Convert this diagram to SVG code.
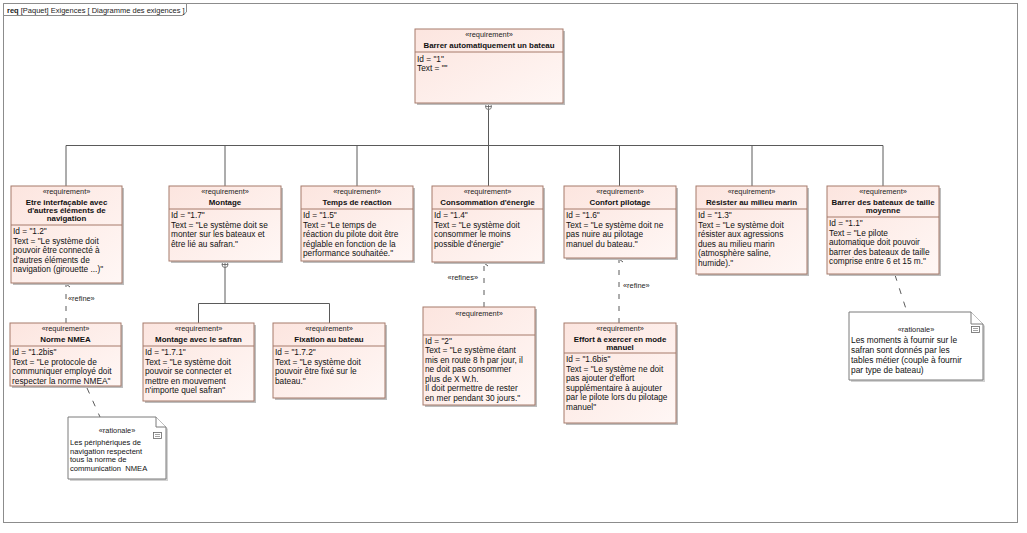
<svg xmlns="http://www.w3.org/2000/svg" width="1027" height="533" viewBox="0 0 1027 533">
<style>
.bg{fill:#fff}
.frame{fill:none;stroke:#8c8c8c;stroke-width:1}
.tab{fill:#fff;stroke:#8c8c8c;stroke-width:1}
.tabt{font-family:"Liberation Sans",Arial,sans-serif;font-size:7.5px;fill:#222}
.box{fill:url(#rg);stroke:#a67a6b;stroke-width:1}
.sh{fill:#bdbdbd}
.div{stroke:#a67a6b;stroke-width:1}
.st{font-family:"Liberation Sans",Arial,sans-serif;font-size:7.4px;text-anchor:middle;fill:#222}
.nm{font-family:"Liberation Sans",Arial,sans-serif;font-size:7.9px;font-weight:bold;text-anchor:middle;fill:#111}
.bd{font-family:"Liberation Sans",Arial,sans-serif;font-size:8.3px;fill:#111}
.lbl{font-family:"Liberation Sans",Arial,sans-serif;font-size:7.4px;fill:#222}
.conn{stroke:#5a5a5a;stroke-width:1;fill:none}
.dash{stroke:#5a5a5a;stroke-width:1;fill:none;stroke-dasharray:5 7}
.adash{stroke:#5a5a5a;stroke-width:1;fill:none;stroke-dasharray:6 8}
.note{fill:#fff;stroke:#7a7a7a;stroke-width:1}
.nsh{fill:#d2d2d2}
.n1{font-family:"Liberation Sans",Arial,sans-serif;font-size:7.6px;fill:#111}
.n2{font-family:"Liberation Sans",Arial,sans-serif;font-size:8.4px;fill:#111}
.hub{fill:#fff;stroke:#5a5a5a;stroke-width:0.8}
.ico{fill:#fff;stroke:#666;stroke-width:0.8}
</style>
<defs>
<linearGradient id="rg" x1="0" y1="0" x2="1" y2="1">
<stop offset="0" stop-color="#fce5df"/>
<stop offset="1" stop-color="#fff7f5"/>
</linearGradient>
<marker id="oa" markerWidth="8" markerHeight="8" refX="4" refY="1" orient="auto-start-reverse" markerUnits="userSpaceOnUse" viewBox="0 0 8 8">
<path d="M1,5 L4,1 L7,5 M4,1 L4,7" fill="none" stroke="#5a5a5a" stroke-width="1" stroke-dasharray="none"/>
</marker>
</defs>
<rect class="bg" x="0" y="0" width="1027" height="533"/>
<g id="frame">
<rect class="frame" x="3.5" y="3.5" width="1014" height="519"/>
<path class="tab" d="M3.5,3.5 H186.5 V12 L182.5,15.5 H3.5 Z"/>
<text class="tabt" x="7" y="12.5"><tspan font-weight="bold">req</tspan> [Paquet] Exigences [ Diagramme des exigences ]</text>
</g>

<g id="connectors">
<line class="conn" x1="488.5" y1="109.5" x2="488.5" y2="145.5"/>
<line class="conn" x1="66" y1="145.5" x2="883" y2="145.5"/>
<line class="conn" x1="66" y1="145.5" x2="66" y2="186"/>
<line class="conn" x1="225" y1="145.5" x2="225" y2="186"/>
<line class="conn" x1="357" y1="145.5" x2="357" y2="186"/>
<line class="conn" x1="488.5" y1="145.5" x2="488.5" y2="186"/>
<line class="conn" x1="619.5" y1="145.5" x2="619.5" y2="186"/>
<line class="conn" x1="752" y1="145.5" x2="752" y2="186"/>
<line class="conn" x1="883" y1="145.5" x2="883" y2="186"/>
<circle class="hub" cx="488.5" cy="106.5" r="3"/>
<path d="M485.5,106.5 H491.5 M488.5,103.5 V109.5" stroke="#5a5a5a" stroke-width="0.8"/>
<line class="conn" x1="225" y1="267.5" x2="225" y2="303.5"/>
<line class="conn" x1="198.5" y1="303.5" x2="329.5" y2="303.5"/>
<line class="conn" x1="198.5" y1="303.5" x2="198.5" y2="323"/>
<line class="conn" x1="329.5" y1="303.5" x2="329.5" y2="323"/>
<circle class="hub" cx="225" cy="264.5" r="3"/>
<path d="M222,264.5 H228 M225,261.5 V267.5" stroke="#5a5a5a" stroke-width="0.8"/>
<line class="dash" x1="66" y1="323" x2="66" y2="284" marker-end="url(#oa)"/>
<text class="lbl" x="68" y="301">«refine»</text>
<line class="dash" x1="484" y1="307" x2="484" y2="263" marker-end="url(#oa)"/>
<text class="lbl" x="478" y="280" text-anchor="end">«refines»</text>
<line class="dash" x1="619" y1="323" x2="619" y2="259" marker-end="url(#oa)"/>
<text class="lbl" x="623" y="288">«refine»</text>
<line class="adash" x1="87" y1="388" x2="100" y2="417"/>
<line class="adash" x1="895" y1="275" x2="907" y2="312"/>
</g>

<g id="n0">
<rect class="sh" x="417" y="31" width="148" height="74"/>
<rect class="box" x="415" y="29" width="148" height="74"/>
<line class="div" x1="415" y1="52" x2="563" y2="52"/>
<text class="st" x="489" y="37">«requirement»</text>
<text class="nm" x="489" y="48">Barrer automatiquement un bateau</text>
<text class="bd" x="417" y="61.5">Id = "1"</text>
<text class="bd" x="417" y="71">Text = ""</text>
</g>

<g id="n1">
<rect class="sh" x="13" y="188" width="111" height="97"/>
<rect class="box" x="11" y="186" width="111" height="97"/>
<line class="div" x1="11" y1="225" x2="122" y2="225"/>
<text class="st" x="66.5" y="194">«requirement»</text>
<text class="nm" x="66.5" y="205">Etre interfaçable avec</text>
<text class="nm" x="66.5" y="213">d'autres éléments de</text>
<text class="nm" x="66.5" y="221">navigation</text>
<text class="bd" x="13" y="234">Id = "1.2"</text>
<text class="bd" x="13" y="243.5">Text = "Le système doit</text>
<text class="bd" x="13" y="253">pouvoir être connecté à</text>
<text class="bd" x="13" y="262.5">d'autres éléments de</text>
<text class="bd" x="13" y="272">navigation (girouette ...)"</text>
</g>

<g id="n2">
<rect class="sh" x="171" y="188" width="112" height="75"/>
<rect class="box" x="169" y="186" width="112" height="75"/>
<line class="div" x1="169" y1="209" x2="281" y2="209"/>
<text class="st" x="225" y="194">«requirement»</text>
<text class="nm" x="225" y="205">Montage</text>
<text class="bd" x="171" y="218">Id = "1.7"</text>
<text class="bd" x="171" y="227.5">Text = "Le système doit se</text>
<text class="bd" x="171" y="237">monter sur les bateaux et</text>
<text class="bd" x="171" y="246.5">être lié au safran."</text>
</g>

<g id="n3">
<rect class="sh" x="303" y="188" width="112" height="75"/>
<rect class="box" x="301" y="186" width="112" height="75"/>
<line class="div" x1="301" y1="209" x2="413" y2="209"/>
<text class="st" x="357" y="194">«requirement»</text>
<text class="nm" x="357" y="205">Temps de réaction</text>
<text class="bd" x="303" y="218">Id = "1.5"</text>
<text class="bd" x="303" y="227.5">Text = "Le temps de</text>
<text class="bd" x="303" y="237">réaction du pilote doit être</text>
<text class="bd" x="303" y="246.5">réglable en fonction de la</text>
<text class="bd" x="303" y="256">performance souhaitée."</text>
</g>

<g id="n4">
<rect class="sh" x="434" y="188" width="111" height="76"/>
<rect class="box" x="432" y="186" width="111" height="76"/>
<line class="div" x1="432" y1="209" x2="543" y2="209"/>
<text class="st" x="487.5" y="194">«requirement»</text>
<text class="nm" x="487.5" y="205">Consommation d'énergie</text>
<text class="bd" x="434" y="218">Id = "1.4"</text>
<text class="bd" x="434" y="227.5">Text = "Le système doit</text>
<text class="bd" x="434" y="237">consommer le moins</text>
<text class="bd" x="434" y="246.5">possible d'énergie"</text>
</g>

<g id="n5">
<rect class="sh" x="566" y="188" width="112" height="72"/>
<rect class="box" x="564" y="186" width="112" height="72"/>
<line class="div" x1="564" y1="209" x2="676" y2="209"/>
<text class="st" x="620" y="194">«requirement»</text>
<text class="nm" x="620" y="205">Confort pilotage</text>
<text class="bd" x="566" y="218">Id = "1.6"</text>
<text class="bd" x="566" y="227.5">Text = "Le système doit ne</text>
<text class="bd" x="566" y="237">pas nuire au pilotage</text>
<text class="bd" x="566" y="246.5">manuel du bateau."</text>
</g>

<g id="n6">
<rect class="sh" x="698" y="188" width="111" height="88"/>
<rect class="box" x="696" y="186" width="111" height="88"/>
<line class="div" x1="696" y1="209" x2="807" y2="209"/>
<text class="st" x="751.5" y="194">«requirement»</text>
<text class="nm" x="751.5" y="205">Résister au milieu marin</text>
<text class="bd" x="698" y="218">Id = "1.3"</text>
<text class="bd" x="698" y="227.5">Text = "Le système doit</text>
<text class="bd" x="698" y="237">résister aux agressions</text>
<text class="bd" x="698" y="246.5">dues au milieu marin</text>
<text class="bd" x="698" y="256">(atmosphère saline,</text>
<text class="bd" x="698" y="265.5">humide)."</text>
</g>

<g id="n7">
<rect class="sh" x="829" y="188" width="112" height="88"/>
<rect class="box" x="827" y="186" width="112" height="88"/>
<line class="div" x1="827" y1="217" x2="939" y2="217"/>
<text class="st" x="883" y="194">«requirement»</text>
<text class="nm" x="883" y="205">Barrer des bateaux de taille</text>
<text class="nm" x="883" y="213">moyenne</text>
<text class="bd" x="829" y="226">Id = "1.1"</text>
<text class="bd" x="829" y="235.5">Text = "Le pilote</text>
<text class="bd" x="829" y="245">automatique doit pouvoir</text>
<text class="bd" x="829" y="254.5">barrer des bateaux de taille</text>
<text class="bd" x="829" y="264">comprise entre 6 et 15 m."</text>
</g>

<g id="n8">
<rect class="sh" x="12" y="325" width="111" height="63"/>
<rect class="box" x="10" y="323" width="111" height="63"/>
<line class="div" x1="10" y1="346" x2="121" y2="346"/>
<text class="st" x="65.5" y="331">«requirement»</text>
<text class="nm" x="65.5" y="342">Norme NMEA</text>
<text class="bd" x="12" y="355">Id = "1.2bis"</text>
<text class="bd" x="12" y="364.5">Text = "Le protocole de</text>
<text class="bd" x="12" y="374">communiquer employé doit</text>
<text class="bd" x="12" y="383.5">respecter la norme NMEA"</text>
</g>

<g id="n9">
<rect class="sh" x="145" y="325" width="111" height="78"/>
<rect class="box" x="143" y="323" width="111" height="78"/>
<line class="div" x1="143" y1="346" x2="254" y2="346"/>
<text class="st" x="198.5" y="331">«requirement»</text>
<text class="nm" x="198.5" y="342">Montage avec le safran</text>
<text class="bd" x="145" y="355">Id = "1.7.1"</text>
<text class="bd" x="145" y="364.5">Text = "Le système doit</text>
<text class="bd" x="145" y="374">pouvoir se connecter et</text>
<text class="bd" x="145" y="383.5">mettre en mouvement</text>
<text class="bd" x="145" y="393">n'importe quel safran"</text>
</g>

<g id="n10">
<rect class="sh" x="275" y="325" width="112" height="75"/>
<rect class="box" x="273" y="323" width="112" height="75"/>
<line class="div" x1="273" y1="346" x2="385" y2="346"/>
<text class="st" x="329" y="331">«requirement»</text>
<text class="nm" x="329" y="342">Fixation au bateau</text>
<text class="bd" x="275" y="355">Id = "1.7.2"</text>
<text class="bd" x="275" y="364.5">Text = "Le système doit</text>
<text class="bd" x="275" y="374">pouvoir être fixé sur le</text>
<text class="bd" x="275" y="383.5">bateau."</text>
</g>

<g id="n11">
<rect class="sh" x="425" y="309" width="112" height="98"/>
<rect class="box" x="423" y="307" width="112" height="98"/>
<line class="div" x1="423" y1="335" x2="535" y2="335"/>
<text class="st" x="479" y="315.5">«requirement»</text>
<text class="bd" x="425" y="343.5">Id = "2"</text>
<text class="bd" x="425" y="353">Text = "Le système étant</text>
<text class="bd" x="425" y="362.5">mis en route 8 h par jour, il</text>
<text class="bd" x="425" y="372">ne doit pas consommer</text>
<text class="bd" x="425" y="381.5">plus de X W.h.</text>
<text class="bd" x="425" y="391">Il doit permettre de rester</text>
<text class="bd" x="425" y="400.5">en mer pendant 30 jours."</text>
</g>

<g id="n12">
<rect class="sh" x="566" y="325" width="112" height="100"/>
<rect class="box" x="564" y="323" width="112" height="100"/>
<line class="div" x1="564" y1="353" x2="676" y2="353"/>
<text class="st" x="620" y="331">«requirement»</text>
<text class="nm" x="620" y="342">Effort à exercer en mode</text>
<text class="nm" x="620" y="350">manuel</text>
<text class="bd" x="566" y="362">Id = "1.6bis"</text>
<text class="bd" x="566" y="371.5">Text = "Le système ne doit</text>
<text class="bd" x="566" y="381">pas ajouter d'effort</text>
<text class="bd" x="566" y="390.5">supplémentaire à aujouter</text>
<text class="bd" x="566" y="400">par le pilote lors du pilotage</text>
<text class="bd" x="566" y="409.5">manuel"</text>
</g>

<g id="note1">
<path class="nsh" d="M70,419 H158 L168,429 V481 H70 Z"/>
<path class="note" d="M68,417 H156 L166,427 V479 H68 Z"/>
<path class="note" d="M156,417 V427 H166" fill="none"/>
<rect class="ico" x="153.5" y="432.5" width="8" height="6"/>
<path d="M155,434.5 H160 M155,436.5 H160" stroke="#666" stroke-width="0.6"/>
<text class="st" x="117" y="433">«rationale»</text>
<text class="n1" x="70" y="445">Les périphériques de</text>
<text class="n1" x="70" y="453.7">navigation respectent</text>
<text class="n1" x="70" y="462.4">tous la norme de</text>
<text class="n1" x="70" y="471.1" xml:space="preserve">communication  NMEA</text>
</g>

<g id="note2">
<path class="nsh" d="M851,314 H973 L985,326 V382 H851 Z"/>
<path class="note" d="M849,312 H971 L983,324 V380 H849 Z"/>
<path class="note" d="M971,312 V324 H983" fill="none"/>
<rect class="ico" x="971.5" y="326.5" width="8" height="6"/>
<path d="M973,328.5 H978 M973,330.5 H978" stroke="#666" stroke-width="0.6"/>
<text class="st" x="916" y="332">«rationale»</text>
<text class="n2" x="851" y="343">Les moments à fournir sur le</text>
<text class="n2" x="851" y="353">safran sont donnés par les</text>
<text class="n2" x="851" y="363">tables métier (couple à fournir</text>
<text class="n2" x="851" y="373">par type de bateau)</text>
</g>
</svg>
